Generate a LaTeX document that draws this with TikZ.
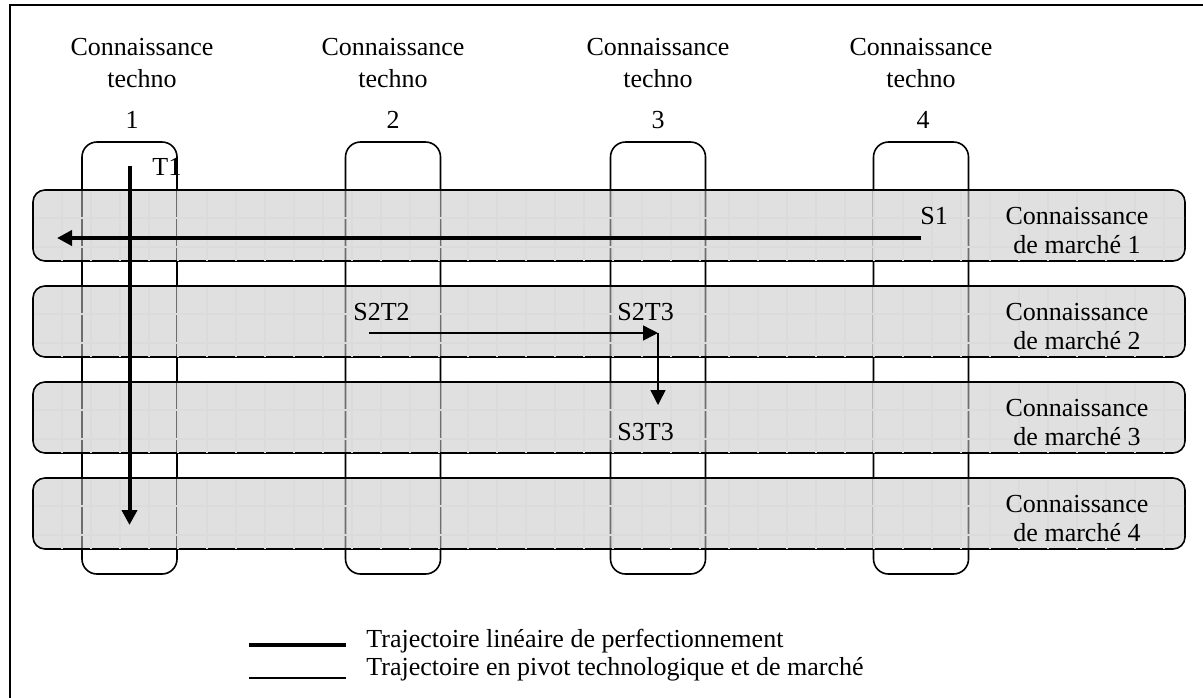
\documentclass[tikz,border=0pt]{standalone}
\usepackage{fontspec}
\setmainfont{Liberation Serif}
\usetikzlibrary{arrows.meta}

\begin{document}
\begin{tikzpicture}[
                    x=0.5pt, y=-0.5pt,
                    every node/.style={inner sep=0pt, font=\fontsize{13pt}{14.5pt}\selectfont},
                    colbox/.style={draw, line width=0.8pt, rounded corners=7.5pt},
                    band/.style={draw, line width=0.8pt, rounded corners=6pt, fill=black!22, fill opacity=0.55},
                    gridline/.style={black!14, line width=0.6pt},
                    linear/.style={line width=2pt, -{Triangle[length=7.5pt,width=7.5pt]}},
                    pivot/.style={line width=0.75pt, -{Triangle[length=7.5pt,width=7.5pt]}}
                ]
                \useasboundingbox (0,0) rectangle (1203,697);
                \clip (0,0) rectangle (1203,697);
                \draw[line width=1pt] (9.5,5) rectangle (1215,710);

                % colonnes techno
                \foreach \i/\cx in {1/129.5,2/393,3/658,4/921}
                    \node[colbox, minimum width=47.5pt, minimum height=216pt] (tech\i) at (\cx,358) {};
                \foreach \i/\hx/\nx in {1/142/132,2/393/393,3/658/658,4/921/923} {
                    \node[anchor=base, align=center] (head\i) at (\hx,87) {Connaissance\\[1.5pt]techno};
                    \node[anchor=base] (num\i) at (\nx,128) {\i};
                }

                % bandes marche
                \foreach \j/\ty in {1/190,2/286,3/382,4/478} {
                    \node[band, minimum width=576pt, minimum height=35.5pt] (mkt\j) at (609,\ty+35.5) {};
                    \begin{scope}
                        \clip (34,\ty+1) rectangle (1184,\ty+70);
                        \foreach \k in {1,...,39}
                            \draw[gridline] (33+29*\k,\ty) -- (33+29*\k,\ty+71);
                        \draw[gridline] (33,\ty+28) -- (1185,\ty+28) (33,\ty+57) -- (1185,\ty+57);
                    \end{scope}
                    \node[anchor=base, align=center] (mlab\j) at (1077,\ty+63) {Connaissance\\de marché \j};
                }

                \node[anchor=base west] (t1) at (152,175) {T1};
                \node[anchor=base west] (s1) at (920,224) {S1};
                \node[anchor=base west] (s2t2) at (353,320) {S2T2};
                \node[anchor=base west] (s2t3) at (617,320) {S2T3};
                \node[anchor=base west] (s3t3) at (617,440) {S3T3};

                \coordinate (t1start) at (129.5,166);
                \coordinate (t1end) at (129.5,525);
                \coordinate (s1start) at (921,238);
                \coordinate (s1end) at (57,238);
                \coordinate (pivA) at (369,333);
                \coordinate (pivB) at (658,333);
                \coordinate (pivC) at (658,405);

                \path
                (t1start) edge[linear] (t1end)
                (s1start) edge[linear] (s1end)
                (pivA) edge[pivot] (pivB)
                (pivB) edge[pivot] (pivC)
                ;

                % legende
                \coordinate (legA1) at (249,645);
                \coordinate (legB1) at (346,645);
                \coordinate (legA2) at (249,678);
                \coordinate (legB2) at (346,678);
                \draw[line width=2pt] (legA1) -- (legB1);
                \draw[line width=0.75pt] (legA2) -- (legB2);
                \node[anchor=base west] (leg1) at (366,647) {Trajectoire linéaire de perfectionnement};
                \node[anchor=base west] (leg2) at (366,675) {Trajectoire en pivot technologique et de marché};
            \end{tikzpicture}
\end{document}
